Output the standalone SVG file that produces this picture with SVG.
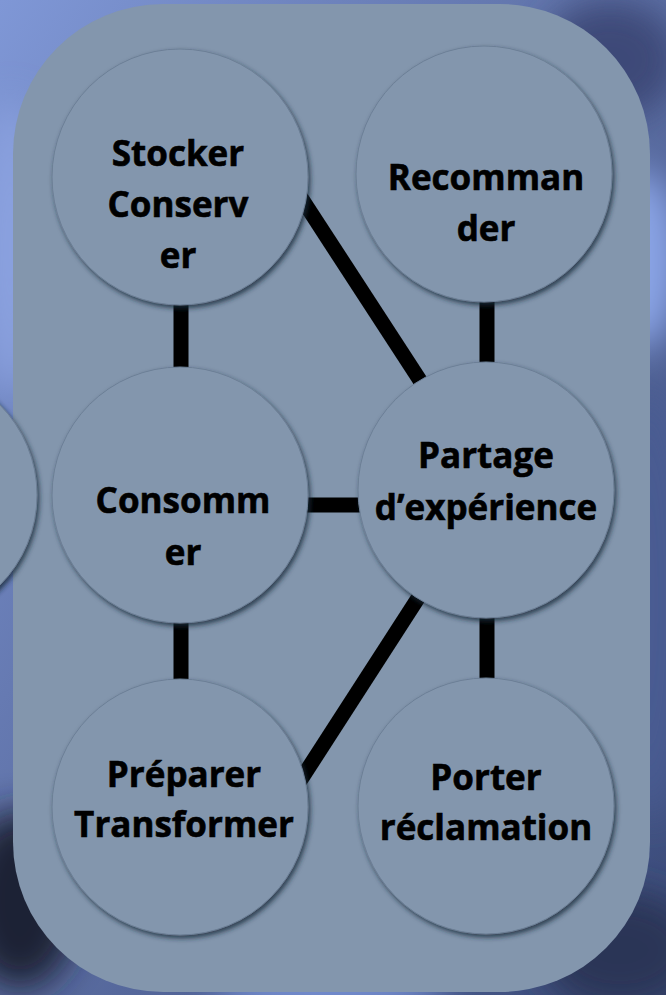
<svg xmlns="http://www.w3.org/2000/svg" width="666" height="995" viewBox="0 0 666 995">
<defs>
<linearGradient id="bg" x1="0" y1="0" x2="1" y2="1">
<stop offset="0" stop-color="#7f97d6"/>
<stop offset="0.45" stop-color="#5f72a8"/>
<stop offset="1" stop-color="#3a4a78"/>
</linearGradient>
<filter id="blur" x="-50%" y="-50%" width="200%" height="200%"><feGaussianBlur stdDeviation="18"/></filter>
<filter id="sh" x="-20%" y="-20%" width="140%" height="140%">
<feDropShadow dx="2" dy="3" stdDeviation="2.5" flood-color="#1e2a3a" flood-opacity="0.8"/>
</filter>
</defs>
<style>
.node circle{fill:#8396ad;stroke:#6c7f96;stroke-width:1;filter:url(#sh)}
.node text{font-family:"Open Sans","Liberation Sans",sans-serif;font-weight:bold;font-size:35px;fill:#000;stroke:#000;stroke-width:0.6;text-anchor:middle}
#connectors line{stroke:#000;stroke-width:15}
</style>
<rect width="666" height="995" fill="url(#bg)"/>
<g filter="url(#blur)">
<ellipse cx="610" cy="60" rx="70" ry="60" fill="#3c4a78"/>
<ellipse cx="640" cy="260" rx="40" ry="90" fill="#8aa4e6"/>
<ellipse cx="650" cy="600" rx="40" ry="220" fill="#4a5c92"/>
<ellipse cx="20" cy="900" rx="60" ry="90" fill="#1e2436"/>
<ellipse cx="620" cy="950" rx="80" ry="60" fill="#2a3656"/>
<ellipse cx="330" cy="990" rx="120" ry="20" fill="#7f9ae0"/>
<ellipse cx="10" cy="250" rx="30" ry="150" fill="#8ba2e0"/>
</g>
<rect x="13" y="4" width="637" height="988" rx="150" ry="150" fill="#8396ad"/>
<g id="connectors">
<line x1="181" y1="300" x2="181" y2="370"/>
<line x1="487" y1="296" x2="487" y2="368"/>
<line x1="300" y1="505" x2="366" y2="505"/>
<line x1="181" y1="615" x2="181" y2="688"/>
<line x1="487" y1="612" x2="487" y2="686"/>
<line x1="300" y1="196" x2="423" y2="385"/>
<line x1="422" y1="592" x2="300" y2="781"/>
</g>
<g id="n-left" class="node"><circle cx="-91" cy="495" r="128"/></g>
<g id="n-stocker" class="node"><circle cx="180" cy="177" r="128"/>
<text x="178" y="166">Stocker</text><text x="178" y="217">Conserv</text><text x="178" y="268">er</text></g>
<g id="n-recommander" class="node"><circle cx="484" cy="174" r="128"/>
<text x="486" y="190">Recomman</text><text x="486" y="241">der</text></g>
<g id="n-consommer" class="node"><circle cx="180" cy="495" r="128"/>
<text x="183" y="513">Consomm</text><text x="183" y="565">er</text></g>
<g id="n-partage" class="node"><circle cx="486" cy="490" r="128"/>
<text x="486" y="468">Partage</text><text x="486" y="520">d’expérience</text></g>
<g id="n-preparer" class="node"><circle cx="180" cy="807" r="128"/>
<text x="184" y="787">Préparer</text><text x="184" y="837">Transformer</text></g>
<g id="n-porter" class="node"><circle cx="486" cy="806" r="128"/>
<text x="486" y="790">Porter</text><text x="486" y="840">réclamation</text></g>
</svg>
